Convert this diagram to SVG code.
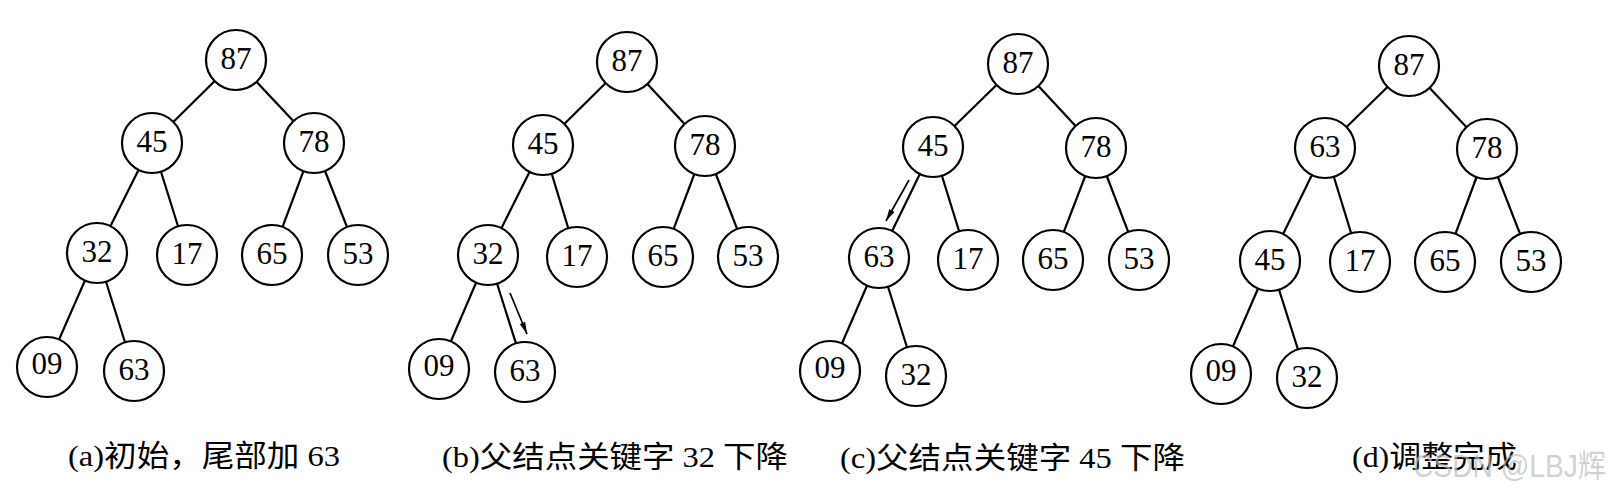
<svg xmlns="http://www.w3.org/2000/svg" width="1612" height="497" viewBox="0 0 1612 497">
<style>
  .edge { stroke: #000; stroke-width: 2.2; fill: none; }
  .arrow { stroke: #000; stroke-width: 1.7; fill: none; marker-end: url(#ah); }
  .node circle { fill: #fff; stroke: #000; stroke-width: 2.2; }
  .node text { font-family: "Liberation Serif", "Times New Roman", serif; font-size: 31px; text-anchor: middle; fill: #000; }
  .cap { font-family: "Liberation Serif", "Noto Sans CJK SC", serif; font-size: 30px; fill: #000; }
  .wm { font-family: "Liberation Sans", "Noto Sans CJK SC", sans-serif; font-size: 32px; fill: #bdbdbd; fill-opacity: 0.7; }
</style>
<defs>
  <marker id="ah" markerUnits="userSpaceOnUse" markerWidth="13" markerHeight="7" refX="12" refY="3.5" orient="auto">
    <path d="M0,0.5 L12,3.5 L0,6.5 z" fill="#000"/>
  </marker>
</defs>
<rect width="1612" height="497" fill="#fff"/>
<g id="connectors">
  <!-- panel a -->
  <line class="edge" x1="236" y1="60" x2="152" y2="143"/>
  <line class="edge" x1="236" y1="60" x2="314" y2="143"/>
  <line class="edge" x1="152" y1="143" x2="97" y2="253"/>
  <line class="edge" x1="152" y1="143" x2="187" y2="255"/>
  <line class="edge" x1="314" y1="143" x2="272" y2="255"/>
  <line class="edge" x1="314" y1="143" x2="358" y2="255"/>
  <line class="edge" x1="97" y1="253" x2="47" y2="367"/>
  <line class="edge" x1="97" y1="253" x2="134" y2="371"/>
  <!-- panel b -->
  <line class="edge" x1="627" y1="62" x2="543" y2="145"/>
  <line class="edge" x1="627" y1="62" x2="705" y2="146"/>
  <line class="edge" x1="543" y1="145" x2="488" y2="255"/>
  <line class="edge" x1="543" y1="145" x2="577" y2="257"/>
  <line class="edge" x1="705" y1="146" x2="663" y2="257"/>
  <line class="edge" x1="705" y1="146" x2="748" y2="257"/>
  <line class="edge" x1="488" y1="255" x2="439" y2="369"/>
  <line class="edge" x1="488" y1="255" x2="525" y2="372"/>
  <line class="arrow" x1="510" y1="293" x2="527" y2="334"/>
  <!-- panel c -->
  <line class="edge" x1="1018" y1="64" x2="933" y2="147"/>
  <line class="edge" x1="1018" y1="64" x2="1096" y2="148"/>
  <line class="edge" x1="933" y1="147" x2="879" y2="258"/>
  <line class="edge" x1="933" y1="147" x2="968" y2="260"/>
  <line class="edge" x1="1096" y1="148" x2="1053" y2="260"/>
  <line class="edge" x1="1096" y1="148" x2="1139" y2="260"/>
  <line class="edge" x1="879" y1="258" x2="830" y2="371"/>
  <line class="edge" x1="879" y1="258" x2="916" y2="376"/>
  <line class="arrow" x1="909" y1="180" x2="886" y2="221"/>
  <!-- panel d -->
  <line class="edge" x1="1409" y1="66" x2="1325" y2="148"/>
  <line class="edge" x1="1409" y1="66" x2="1487" y2="149"/>
  <line class="edge" x1="1325" y1="148" x2="1270" y2="261"/>
  <line class="edge" x1="1325" y1="148" x2="1360" y2="262"/>
  <line class="edge" x1="1487" y1="149" x2="1445" y2="262"/>
  <line class="edge" x1="1487" y1="149" x2="1531" y2="262"/>
  <line class="edge" x1="1270" y1="261" x2="1221" y2="374"/>
  <line class="edge" x1="1270" y1="261" x2="1307" y2="378"/>
</g>
<!-- panel a nodes -->
<g id="a87" class="node"><circle cx="236" cy="60" r="30"/><text x="236" y="69">87</text></g>
<g id="a45" class="node"><circle cx="152" cy="143" r="30"/><text x="152" y="152">45</text></g>
<g id="a78" class="node"><circle cx="314" cy="143" r="30"/><text x="314" y="152">78</text></g>
<g id="a32" class="node"><circle cx="97" cy="253" r="30"/><text x="97" y="262">32</text></g>
<g id="a17" class="node"><circle cx="187" cy="255" r="30"/><text x="187" y="264">17</text></g>
<g id="a65" class="node"><circle cx="272" cy="255" r="30"/><text x="272" y="264">65</text></g>
<g id="a53" class="node"><circle cx="358" cy="255" r="30"/><text x="358" y="264">53</text></g>
<g id="a09" class="node"><circle cx="47" cy="367" r="30"/><text x="47" y="374">09</text></g>
<g id="a63" class="node"><circle cx="134" cy="371" r="30"/><text x="134" y="380">63</text></g>
<!-- panel b nodes -->
<g id="b87" class="node"><circle cx="627" cy="62" r="30"/><text x="627" y="71">87</text></g>
<g id="b45" class="node"><circle cx="543" cy="145" r="30"/><text x="543" y="154">45</text></g>
<g id="b78" class="node"><circle cx="705" cy="146" r="30"/><text x="705" y="155">78</text></g>
<g id="b32" class="node"><circle cx="488" cy="255" r="30"/><text x="488" y="264">32</text></g>
<g id="b17" class="node"><circle cx="577" cy="257" r="30"/><text x="577" y="266">17</text></g>
<g id="b65" class="node"><circle cx="663" cy="257" r="30"/><text x="663" y="266">65</text></g>
<g id="b53" class="node"><circle cx="748" cy="257" r="30"/><text x="748" y="266">53</text></g>
<g id="b09" class="node"><circle cx="439" cy="369" r="30"/><text x="439" y="376">09</text></g>
<g id="b63" class="node"><circle cx="525" cy="372" r="30"/><text x="525" y="381">63</text></g>
<!-- panel c nodes -->
<g id="c87" class="node"><circle cx="1018" cy="64" r="30"/><text x="1018" y="73">87</text></g>
<g id="c45" class="node"><circle cx="933" cy="147" r="30"/><text x="933" y="156">45</text></g>
<g id="c78" class="node"><circle cx="1096" cy="148" r="30"/><text x="1096" y="157">78</text></g>
<g id="c63" class="node"><circle cx="879" cy="258" r="30"/><text x="879" y="267">63</text></g>
<g id="c17" class="node"><circle cx="968" cy="260" r="30"/><text x="968" y="269">17</text></g>
<g id="c65" class="node"><circle cx="1053" cy="260" r="30"/><text x="1053" y="269">65</text></g>
<g id="c53" class="node"><circle cx="1139" cy="260" r="30"/><text x="1139" y="269">53</text></g>
<g id="c09" class="node"><circle cx="830" cy="371" r="30"/><text x="830" y="378">09</text></g>
<g id="c32" class="node"><circle cx="916" cy="376" r="30"/><text x="916" y="385">32</text></g>
<!-- panel d nodes -->
<g id="d87" class="node"><circle cx="1409" cy="66" r="30"/><text x="1409" y="75">87</text></g>
<g id="d63" class="node"><circle cx="1325" cy="148" r="30"/><text x="1325" y="157">63</text></g>
<g id="d78" class="node"><circle cx="1487" cy="149" r="30"/><text x="1487" y="158">78</text></g>
<g id="d45" class="node"><circle cx="1270" cy="261" r="30"/><text x="1270" y="270">45</text></g>
<g id="d17" class="node"><circle cx="1360" cy="262" r="30"/><text x="1360" y="271">17</text></g>
<g id="d65" class="node"><circle cx="1445" cy="262" r="30"/><text x="1445" y="271">65</text></g>
<g id="d53" class="node"><circle cx="1531" cy="262" r="30"/><text x="1531" y="271">53</text></g>
<g id="d09" class="node"><circle cx="1221" cy="374" r="30"/><text x="1221" y="381">09</text></g>
<g id="d32" class="node"><circle cx="1307" cy="378" r="30"/><text x="1307" y="387">32</text></g>
<!-- captions -->
<g id="captions">
  <text class="cap" x="68" y="466" textLength="272" lengthAdjust="spacingAndGlyphs">(a)初始，尾部加 63</text>
  <text class="cap" x="442" y="467" textLength="346" lengthAdjust="spacingAndGlyphs">(b)父结点关键字 32 下降</text>
  <text class="cap" x="840" y="468" textLength="345" lengthAdjust="spacingAndGlyphs">(c)父结点关键字 45 下降</text>
  <text class="cap" x="1352" y="467" textLength="165" lengthAdjust="spacingAndGlyphs">(d)调整完成</text>
  <text class="wm" x="1413" y="477" textLength="193" lengthAdjust="spacingAndGlyphs">CSDN @LBJ辉</text>
</g>
</svg>
